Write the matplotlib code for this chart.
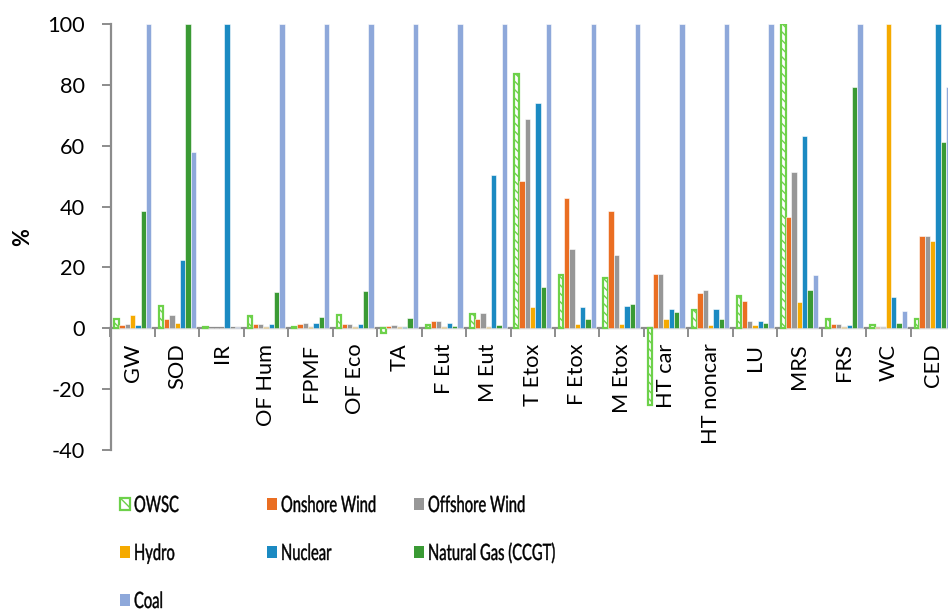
import matplotlib
matplotlib.use("Agg")
import matplotlib.pyplot as plt
import numpy as np
from matplotlib.patches import Rectangle, PathPatch
from matplotlib.textpath import TextPath
from matplotlib.font_manager import FontProperties
from matplotlib.transforms import Affine2D

plt.rcParams["axes.unicode_minus"] = False

categories = ["GW", "SOD", "IR", "OF Hum", "FPMF", "OF Eco", "TA", "F Eut", "M Eut",
              "T Etox", "F Etox", "M Etox", "HT car", "HT noncar", "LU", "MRS", "FRS",
              "WC", "CED"]

owsc     = [3.0, 7.2, 0.3, 4.2, 0.5, 4.3, -1.5, 1.0, 4.7, 83.5, 17.6, 16.4, -25.3, 6.0, 10.5, 100, 3.2, 1.2, 3.2]
onshore  = [1.0, 3.0, 0.0, 1.4, 1.5, 1.4, 0.7, 2.3, 3.0, 48.4, 42.9, 38.7, 18.0, 11.5, 8.9, 36.6, 1.5, 0.3, 30.2]
offshore = [1.3, 4.4, 0.0, 1.4, 1.8, 1.4, 1.0, 2.4, 5.0, 68.9, 25.9, 24.2, 18.0, 12.6, 2.5, 51.4, 1.5, 0.5, 30.2]
hydro    = [4.4, 1.8, 0.0, 0.3, 0.5, 0.5, 0.3, 0.3, 0.3, 6.9, 1.4, 1.4, 2.9, 1.2, 1.0, 8.6, 0.5, 100, 28.6]
nuclear  = [1.0, 22.6, 100, 1.4, 1.8, 1.3, 0.5, 1.8, 50.5, 74.0, 6.9, 7.2, 6.2, 6.2, 2.5, 63.3, 1.2, 10.4, 100]
gas      = [38.4, 100, 0.0, 12.0, 3.8, 12.4, 3.4, 0.9, 1.0, 13.5, 3.1, 8.0, 5.2, 3.2, 1.8, 12.6, 79.3, 1.8, 61.1]
coal     = [100, 58.0, 0.3, 100, 100, 100, 100, 100, 100, 100, 100, 100, 100, 100, 100, 17.5, 100, 5.6, 79.2]

series_names = ["OWSC", "Onshore Wind", "Offshore Wind", "Hydro", "Nuclear",
                "Natural Gas (CCGT)", "Coal"]
series_vals = [owsc, onshore, offshore, hydro, nuclear, gas, coal]
colors = ["#6dd14a", "#ea6e22", "#979797", "#f5aa00", "#1b8ac2", "#3a9a34", "#8ea8da"]

font = "Lato"
fs = 15.7

fig = plt.figure(figsize=(9.48, 6.12), dpi=100)
ax = fig.add_axes([110.5 / 948, 162 / 612, 844.5 / 948, 426 / 612])

x = np.arange(len(categories))
w = 0.12
for k, (name, vals, c) in enumerate(zip(series_names, series_vals, colors)):
    pos = x + (k - 3) * w
    if name == "OWSC":
        ax.bar(pos, vals, w * 0.85, facecolor="white", edgecolor=c, linewidth=1.6,
               hatch="\\\\\\\\", zorder=3)
    else:
        ax.bar(pos, vals, w, color=c, edgecolor="white", linewidth=0.4, zorder=3)

ax.set_xlim(-0.5, len(categories) - 0.5)
ax.set_ylim(-40, 100)
ax.set_yticks(np.arange(-40, 101, 20))

for s in ["top", "right"]:
    ax.spines[s].set_visible(False)
ax.spines["bottom"].set_position(("data", 0))
for s in ["left", "bottom"]:
    ax.spines[s].set_color("#8c8c8c")
    ax.spines[s].set_linewidth(1.6)

ax.set_xticks(x)
ax.set_xticklabels(categories, rotation=90, fontsize=fs, family=font, va="top")
ax.set_xticks(np.arange(len(categories) + 1) - 0.5, minor=True)
ax.tick_params(axis="x", which="major", length=0, pad=11)
ax.tick_params(axis="x", which="minor", length=6.5, width=1.4, color="#8c8c8c", direction="out")
ax.tick_params(axis="y", length=6.5, width=1.4, color="#8c8c8c", pad=12)
for lab in ax.get_yticklabels():
    lab.set_family(font)
    lab.set_fontsize(fs)

ax.set_ylabel("%", fontsize=fs, fontweight="bold", family=font)
ax.yaxis.set_label_coords(-0.092, 0.5)

# legend, drawn by hand in a 3-column grid; text is narrow like the original
prop = FontProperties(family=font)
for i, (name, c) in enumerate(zip(series_names, colors)):
    row, col = divmod(i, 3)
    x0 = 120 + col * 147
    y0 = 504 + row * 48
    if name == "OWSC":
        r = Rectangle((x0 / 948, 1 - (y0 + 6) / 612), 10 / 948, 12 / 612,
                      transform=fig.transFigure, facecolor="white", edgecolor=c,
                      linewidth=1.6, hatch="\\\\\\")
    else:
        r = Rectangle((x0 / 948, 1 - (y0 + 6) / 612), 10 / 948, 12 / 612,
                      transform=fig.transFigure, facecolor=c, edgecolor="none")
    fig.patches.append(r)
    tp = TextPath((0, 0), name, size=22.5, prop=prop)
    tr = Affine2D().scale(0.655, 1.0).translate(x0 + 14, 612 - y0 - 8)
    fig.patches.append(PathPatch(tr.transform_path(tp), facecolor="black",
                                 edgecolor="black", linewidth=0.3, transform=None))

fig.savefig("out.png", dpi=100)
